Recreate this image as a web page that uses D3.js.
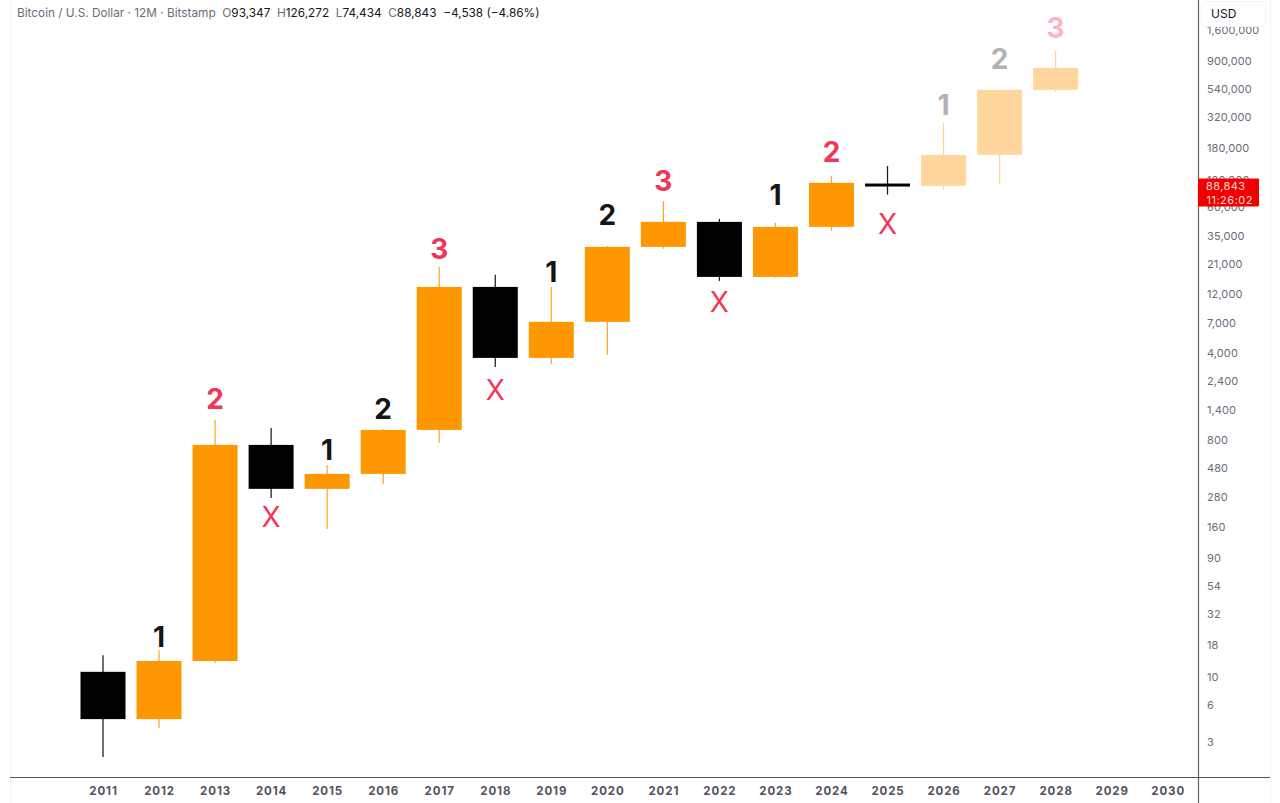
<!DOCTYPE html>
<html>
<head>
<meta charset="utf-8">
<script src="https://cdn.jsdelivr.net/npm/d3@7/dist/d3.min.js"></script>
<style>
html,body{margin:0;padding:0;background:#fff;overflow:hidden}
svg{display:block}
text{font-family:Inter,"Noto Sans",sans-serif}
</style>
</head>
<body>
<svg id="c" width="1280" height="803"></svg>
<script>
const years = [2011,2012,2013,2014,2015,2016,2017,2018,2019,2020,2021,2022,2023,2024,2025,2026,2027,2028,2029,2030];
const candleYears = years.slice(0,18);
const opens  = [10.8,4.5,13.2,722,320,422,953,13470,3616,7047,28270,44900,16210,40950,93347,87500,155400,517800];
const closes = [4.5,13.2,722,320,422,953,13470,3616,7047,28270,44900,16210,40950,92500,88843,155400,517800,778500];
const highs  = [14.7,16.2,1146,989,498,971,19520,16830,13470,28780,66240,47490,44100,105300,126272,281300,517800,1066800];
const lows   = [2.23,3.8,12.7,270,152,350,749,3060,3237,3822,27260,15060,16000,38040,74434,81300,90800,499000];
const kinds  = ["black","orange","orange","black","orange","orange","orange","black","orange","orange","orange","black","orange","orange","black","faded","faded","faded"];
const kindColors = {black:"#000000",orange:"#ff9800",faded:"#ffd79e"};
const wickColors = {black:"#1a1a1a",orange:"#ffa826",faded:"#ffd595"};

const markYears  = [2012,2013,2014,2015,2016,2017,2018,2019,2020,2021,2022,2023,2024,2025,2026,2027,2028];
const markTexts  = ["1","2","X","1","2","3","X","1","2","3","X","1","2","X","1","2","3"];
const markPrices = [20.6,1693,190,658,1406,27260,1998,17790,51140,95970,10210,74100,164400,43290,392700,920700,1633500];
const markColors = ["#151515","#f23658","#f23658","#151515","#151515","#f23658","#f23658","#151515","#151515","#f23658","#f23658","#151515","#f23658","#f23658","#b2b2b2","#b2b2b2","#ffb3c4"];

const priceTicks = [3,6,10,18,32,54,90,160,280,480,800,1400,2400,4000,7000,12000,21000,35000,60000,100000,180000,320000,540000,900000,1600000];
const headerParts = [
  ["Bitcoin / U.S. Dollar · 12M · Bitstamp  ","#6a6d78"],["O","#6a6d78"],["93,347  ","#131722"],
  ["H","#6a6d78"],["126,272  ","#131722"],["L","#6a6d78"],["74,434  ","#131722"],
  ["C","#6a6d78"],["88,843  ","#131722"],["−4,538 (−4.86%)","#131722"]
];
const lastPrice = 88843, lastLabel = "88,843", countdown = "11:26:02";

const svg = d3.select("#c");
const x = d3.scalePoint().domain(years).range([103,1167.7]);
const y = d3.scaleLog().domain([3,900000]).range([741,60]);
const bodyW = 45;

// frame
svg.append("line").attr("x1",10.5).attr("x2",10.5).attr("y1",0).attr("y2",803).attr("stroke","#f3f3f3");
svg.append("line").attr("x1",1270.5).attr("x2",1270.5).attr("y1",0).attr("y2",803).attr("stroke","#f3f3f3");

// wicks
svg.append("g").selectAll("line").data(candleYears).join("line")
  .attr("x1",d=>x(d)).attr("x2",d=>x(d))
  .attr("y1",(d,i)=>y(highs[i])).attr("y2",(d,i)=>y(lows[i]))
  .attr("stroke",(d,i)=>wickColors[kinds[i]]).attr("stroke-width",1.25);

// bodies
svg.append("g").selectAll("rect").data(candleYears).join("rect")
  .attr("x",d=>x(d)-bodyW/2).attr("width",bodyW)
  .attr("y",(d,i)=>{const t=Math.min(y(opens[i]),y(closes[i])),b=Math.max(y(opens[i]),y(closes[i]));return b-t<4?y(closes[i])-1.5:t;})
  .attr("height",(d,i)=>Math.abs(y(opens[i])-y(closes[i]))<4?3:Math.abs(y(opens[i])-y(closes[i])))
  .attr("fill",(d,i)=>kindColors[kinds[i]]);

// wave marks
svg.append("g").selectAll("text").data(markYears).join("text")
  .attr("x",d=>x(d)).attr("y",(d,i)=>y(markPrices[i]))
  .attr("text-anchor","middle").attr("dominant-baseline","central")
  .attr("font-size",28)
  .attr("font-weight",(d,i)=>markTexts[i]==="X"?400:700)
  .attr("fill",(d,i)=>markColors[i])
  .text((d,i)=>markTexts[i]);

// axes
const yAxis = svg.append("g").attr("transform","translate(1198,1)")
  .call(d3.axisRight(y).tickValues(priceTicks).tickFormat(d3.format(",")).tickSize(0).tickPadding(9));
yAxis.select(".domain").remove();
yAxis.selectAll("text").attr("font-size",11).attr("fill","#6a6d78").attr("letter-spacing",0.1)
  .style("font-family",'Inter,"Noto Sans",sans-serif');

const xAxis = svg.append("g").attr("transform","translate(0,779)")
  .call(d3.axisBottom(x).tickSize(0).tickPadding(8).tickFormat(d3.format("d")));
xAxis.select(".domain").remove();
xAxis.selectAll("text").attr("font-size",11.5).attr("font-weight",700).attr("fill","#50535e").attr("letter-spacing",0.9)
  .style("font-family",'Inter,"Noto Sans",sans-serif');

svg.append("line").attr("x1",10).attr("x2",1270).attr("y1",777.5).attr("y2",777.5).attr("stroke","#50535e").attr("stroke-width",1);
svg.append("line").attr("x1",1198.5).attr("x2",1198.5).attr("y1",0).attr("y2",803).attr("stroke","#5d606b").attr("stroke-width",1.2);

// price tag
const tagY = y(lastPrice);
svg.append("rect").attr("x",1198).attr("y",tagY-6.5).attr("width",61).attr("height",28).attr("rx",1).attr("fill","#f00000");
svg.append("text").attr("x",1206).attr("y",tagY+4.5).attr("font-size",11).attr("letter-spacing",0.4).attr("fill","#ffdcdc").text(lastLabel);
svg.append("text").attr("x",1206.5).attr("y",tagY+18.5).attr("font-size",11).attr("letter-spacing",0.5).attr("fill","#ffdcdc").text(countdown);

// currency box
svg.append("rect").attr("x",1201).attr("y",1.5).attr("width",65).attr("height",25).attr("rx",5).attr("fill","#fff").attr("stroke","#f4f4f4");
svg.append("text").attr("x",1211).attr("y",18).attr("font-size",12).attr("fill","#131722").text("USD");

// header
const hdr = svg.append("text").attr("x",17).attr("y",17).attr("font-size",11.8).attr("xml:space","preserve").style("white-space","pre");
hdr.selectAll("tspan").data(headerParts).join("tspan").attr("fill",d=>d[1]).text(d=>d[0]);
</script>
</body>
</html>
